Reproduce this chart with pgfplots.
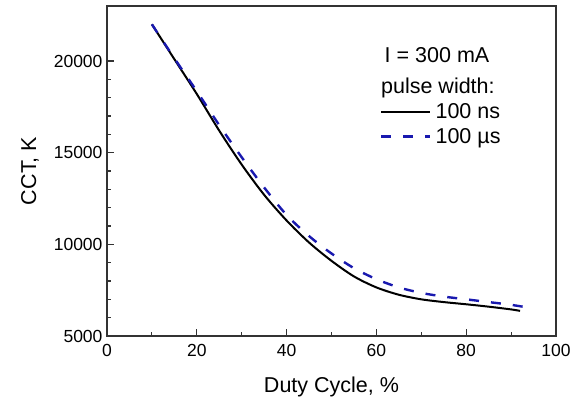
\documentclass[border=0pt]{standalone}
\usepackage{fontspec}
\setmainfont{Liberation Sans}
\usepackage{pgfplots}
\pgfplotsset{compat=1.18}
\usetikzlibrary{calc}
\definecolor{curveblue}{RGB}{25,25,175}

\begin{document}
\begin{tikzpicture}
\begin{axis}[name=ax,scale only axis,width=449pt,height=330pt,
  xmin=0,xmax=100,ymin=5000,ymax=23000,
  xtick={0,20,...,100},minor x tick num=1,
  ytick={5000,10000,15000,20000},minor y tick num=4,
  scaled y ticks=false,
  xtick pos=left,ytick pos=left,tick align=inside,
  major tick length=7pt,minor tick length=4pt,
  axis line style={line width=1.3pt,black!80},
  every tick/.style={line width=1.2pt,black!80},
  /pgf/number format/1000 sep={},
  /pgf/number format/assume math mode=true,
  tick label style={font=\fontsize{17.5}{20}\selectfont},
  xticklabel style={yshift=-5pt},
  yticklabel style={xshift=-1pt},
  label style={font=\fontsize{21.5}{25}\selectfont},
  xlabel={Duty Cycle, \%},ylabel={CCT, K},
  xlabel style={at={(axis description cs:0.5,-0.155)},anchor=center},
  ylabel style={at={(axis description cs:-0.1715,0.5)},anchor=center,rotate=0},
  legend style={draw=none,fill=none,at={(axis description cs:0.608,0.71)},anchor=north west,
    font=\fontsize{21.5}{25}\selectfont,row sep=4pt,inner sep=0pt,
    nodes={inner sep=2pt,inner xsep=4pt}},
  legend cell align=left,
  legend image code/.code={\draw[#1] (-4pt,0pt) -- (45pt,0pt);},
]
\addplot[black,line width=2pt,smooth] coordinates {
(10,22000) (15,20100) (20,18200) (25,16200) (30,14350) (35,12700)
(40,11300) (45,10100) (50,9100) (55,8250) (60,7650) (65,7250)
(70,7000) (75,6850) (80,6730) (85,6600) (90,6450) (92,6370)};
\addlegendentry{100 ns}
\addplot[curveblue,line width=2.4pt,dash pattern=on 10pt off 12pt,smooth] coordinates {
(10,22000) (15,20150) (20,18350) (25,16500) (30,14750) (35,13100)
(40,11600) (45,10450) (50,9500) (55,8700) (60,8100) (65,7650)
(70,7350) (75,7150) (80,7000) (85,6850) (90,6700) (95,6500)};
\addlegendentry{100 µs}
\node[font=\fontsize{21.5}{25}\selectfont] at (axis description cs:0.735,0.851) {I = 300 mA};
\node[font=\fontsize{21.5}{25}\selectfont] at (axis description cs:0.737,0.751) {pulse width:};
\end{axis}
\pgfresetboundingbox
\path[use as bounding box] ($(ax.south west)+(-107pt,-68pt)$) rectangle ($(ax.north east)+(15pt,6pt)$);
\end{tikzpicture}
\end{document}
